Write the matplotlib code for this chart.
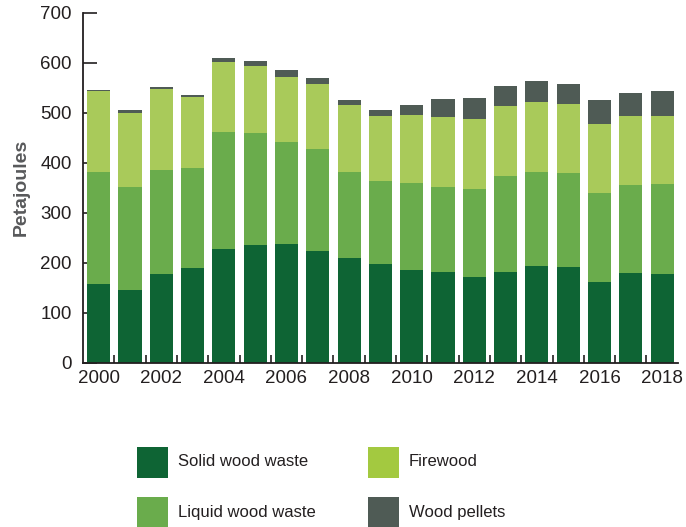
import matplotlib
matplotlib.use("Agg")
import matplotlib.pyplot as plt
from matplotlib.patches import Rectangle
import numpy as np

plt.rcParams['font.family'] = ['Liberation Sans Narrow', 'Liberation Sans', 'DejaVu Sans']

years = list(range(2000, 2019))
solid_waste = [157, 145, 177, 189, 227, 235, 237, 223, 209, 197,
               185, 181, 171, 181, 193, 191, 161, 179, 177]
liquid_waste = [224, 206, 208, 200, 234, 224, 204, 204, 172, 166,
                174, 170, 176, 192, 188, 188, 178, 176, 180]
firewood = [163, 148, 162, 142, 140, 134, 130, 130, 134, 130,
            136, 140, 140, 140, 140, 138, 138, 138, 136]
wood_pellets = [2, 6, 4, 4, 8, 10, 14, 12, 10, 12,
                20, 36, 42, 40, 42, 40, 48, 46, 50]

series_names = ["Solid wood waste", "Liquid wood waste", "Firewood", "Wood pellets"]
bar_colors = ["#0e6434", "#6aac4c", "#a9ca5a", "#4f5b55"]
legend_colors = ["#0e6434", "#6aac4c", "#a3c940", "#4f5b55"]

fig = plt.figure(figsize=(6.86, 5.27), dpi=100)
ax = fig.add_axes([0.121, 0.312, 0.867, 0.664])

x = np.arange(len(years))
bottom = np.zeros(len(years))
for vals, col in zip([solid_waste, liquid_waste, firewood, wood_pellets], bar_colors):
    ax.bar(x, vals, width=0.74, bottom=bottom, color=col, zorder=2)
    bottom += np.array(vals)

ax.set_xlim(-0.5, len(years) - 0.5)
ax.set_ylim(0, 700)
ax.set_yticks(range(0, 701, 100))
ax.set_xticks(x[::2])
ax.set_xticklabels([str(y) for y in years[::2]])
ax.set_xticks(x[:-1] + 0.5, minor=True)

for s in ["top", "right"]:
    ax.spines[s].set_visible(False)
for s in ["left", "bottom"]:
    ax.spines[s].set_color("#231f20")
    ax.spines[s].set_linewidth(1.3)

ax.tick_params(axis="y", direction="in", length=10, width=1.2, color="#231f20",
               labelsize=13.5, labelcolor="#231f20", pad=8)
ax.tick_params(axis="x", which="major", length=0, labelsize=13.5,
               labelcolor="#231f20", pad=5)
ax.tick_params(axis="x", which="minor", direction="in", length=6, width=1.2,
               color="#231f20")
ax.set_axisbelow(True)

ax.set_ylabel("Petajoules", fontsize=14, fontweight="bold", color="#58595b", labelpad=8)

# legend drawn by hand, two columns
W, H = 686.0, 527.0
legend_pos = [(137, 447), (137, 497), (368, 447), (368, 497)]
for name, col, (px, py) in zip(series_names, legend_colors, legend_pos):
    fig.add_artist(Rectangle((px / W, 1 - (py + 31) / H), 31 / W, 31 / H,
                             transform=fig.transFigure, color=col, lw=0))
    fig.text((px + 41) / W, 1 - (py + 15) / H, name, fontsize=12,
             color="#231f20", va="center", ha="left")

fig.savefig("out.png", dpi=100)
